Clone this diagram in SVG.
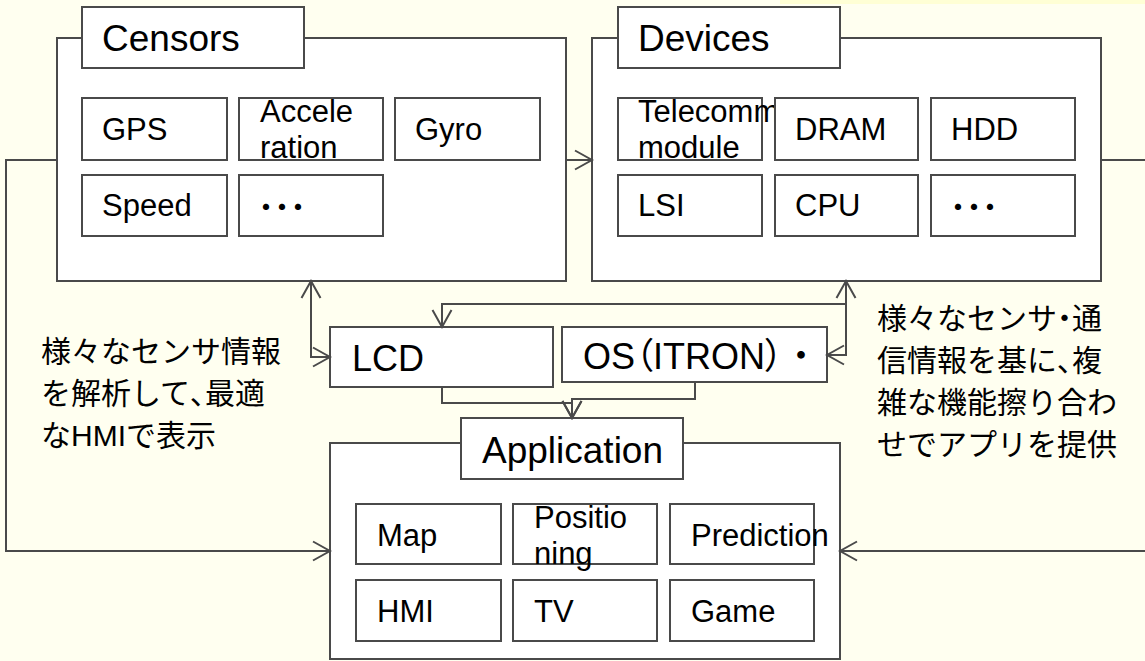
<svg xmlns="http://www.w3.org/2000/svg" width="1145" height="661" viewBox="0 0 1145 661">
<defs>
<style>
.box{fill:#fff;stroke:#4a4a4a;stroke-width:2}
.t37{font-family:"Liberation Sans","Noto Sans CJK JP",sans-serif;font-size:37px;fill:#000}
.t36{font-family:"Liberation Sans","Noto Sans CJK JP",sans-serif;font-size:36px;fill:#000}
.t31{font-family:"Liberation Sans",sans-serif;font-size:31px;fill:#000}
.jp{font-family:"Liberation Sans","Noto Sans CJK JP",sans-serif;font-size:30px;fill:#000}
.palt{font-feature-settings:"palt"}
.dots{font-family:"Noto Sans CJK JP",sans-serif;font-size:32px;font-weight:bold;fill:#000}
.conn{fill:none;stroke:#4a4a4a;stroke-width:2}
</style>
<marker id="ah" viewBox="0 0 20 22" refX="18" refY="11" markerWidth="20" markerHeight="22" markerUnits="userSpaceOnUse" orient="auto-start-reverse">
<path d="M1,1.5 L18,11 L1,20.5" fill="none" stroke="#4a4a4a" stroke-width="2"/>
</marker>
</defs>
<rect width="1145" height="661" fill="#FFFFF0"/>
<rect x="780" y="0" width="365" height="4" fill="#FFFFD5"/>

<g id="censors">
<rect class="box" x="57" y="38" width="509" height="243"/>
<g id="censors-title"><rect class="box" x="82" y="7" width="222" height="61"/><text class="t37" x="102" y="51">Censors</text></g>
<g id="gps"><rect class="box" x="82" y="98" width="145" height="62"/><text class="t31" x="102" y="140">GPS</text></g>
<g id="acceleration"><rect class="box" x="239" y="98" width="144" height="62"/><text class="t31" x="260" y="122">Accele</text><text class="t31" x="260" y="158">ration</text></g>
<g id="gyro"><rect class="box" x="395" y="98" width="145" height="62"/><text class="t31" x="415" y="140">Gyro</text></g>
<g id="speed"><rect class="box" x="82" y="175" width="145" height="61"/><text class="t31" x="102" y="216">Speed</text></g>
<g id="censors-more"><rect class="box" x="239" y="175" width="144" height="61"/><text class="dots" x="258" y="219">･･･</text></g>
</g>

<g id="devices">
<rect class="box" x="592" y="38" width="509" height="243"/>
<g id="devices-title"><rect class="box" x="618" y="7" width="222" height="61"/><text class="t37" x="638" y="51">Devices</text></g>
<g id="telecomm"><rect class="box" x="618" y="98" width="144" height="62"/><text class="t31" x="638" y="122">Telecomm</text><text class="t31" x="638" y="158">module</text></g>
<g id="dram"><rect class="box" x="775" y="98" width="143" height="62"/><text class="t31" x="795" y="140">DRAM</text></g>
<g id="hdd"><rect class="box" x="931" y="98" width="144" height="62"/><text class="t31" x="951" y="140">HDD</text></g>
<g id="lsi"><rect class="box" x="618" y="175" width="144" height="61"/><text class="t31" x="638" y="216">LSI</text></g>
<g id="cpu"><rect class="box" x="775" y="175" width="143" height="61"/><text class="t31" x="795" y="216">CPU</text></g>
<g id="devices-more"><rect class="box" x="931" y="175" width="144" height="61"/><text class="dots" x="950" y="219">･･･</text></g>
</g>

<g id="lcd"><rect class="box" x="330" y="327" width="223" height="60"/><text class="t36" x="352" y="371">LCD</text></g>
<g id="os"><rect class="box" x="562" y="327" width="265" height="55"/><text class="t36" x="583" y="369">OS<tspan class="palt">（</tspan>ITRON<tspan class="palt">）</tspan>・</text></g>

<g id="application">
<rect class="box" x="330" y="443" width="510" height="216"/>
<g id="application-title"><rect class="box" x="461" y="418" width="222" height="61"/><text class="t37" x="482" y="463">Application</text></g>
<g id="map"><rect class="box" x="356" y="504" width="145" height="60"/><text class="t31" x="377" y="546">Map</text></g>
<g id="positioning"><rect class="box" x="513" y="504" width="144" height="60"/><text class="t31" x="534" y="528">Positio</text><text class="t31" x="534" y="564">ning</text></g>
<g id="prediction"><rect class="box" x="670" y="504" width="144" height="60"/><text class="t31" x="691" y="546">Prediction</text></g>
<g id="hmi"><rect class="box" x="356" y="580" width="145" height="61"/><text class="t31" x="377" y="622">HMI</text></g>
<g id="tv"><rect class="box" x="513" y="580" width="144" height="61"/><text class="t31" x="534" y="622">TV</text></g>
<g id="game"><rect class="box" x="670" y="580" width="144" height="61"/><text class="t31" x="691" y="622">Game</text></g>
</g>

<g id="note-left">
<text class="jp" x="41" y="362">様々なセンサ情報</text>
<text class="jp" x="41" y="404">を解析して<tspan class="palt">、</tspan>最適</text>
<text class="jp" x="41" y="446">なHMIで表示</text>
</g>
<g id="note-right">
<text class="jp" x="877" y="329">様々なセンサ<tspan class="palt">・</tspan>通</text>
<text class="jp" x="877" y="371">信情報を基に<tspan class="palt">、</tspan>複</text>
<text class="jp" x="877" y="413">雑な機能擦り合わ</text>
<text class="jp" x="877" y="455">せでアプリを提供</text>
</g>

<g id="connectors">
<path class="conn" d="M566,160 H592" marker-end="url(#ah)"/>
<path class="conn" d="M57,160 H6 V551 H330" marker-end="url(#ah)"/>
<path class="conn" d="M1101,160 H1150 V551 H840" marker-end="url(#ah)"/>
<path class="conn" d="M311,281 V357 H330" marker-start="url(#ah)" marker-end="url(#ah)"/>
<path class="conn" d="M846,281 V355 H827" marker-start="url(#ah)" marker-end="url(#ah)"/>
<path class="conn" d="M846,304 H442 V327" marker-end="url(#ah)"/>
<path class="conn" d="M442,387 V403 H572 V418" marker-end="url(#ah)"/>
<path class="conn" d="M695,382 V399 H572 V418" marker-end="url(#ah)"/>
</g>
</svg>
